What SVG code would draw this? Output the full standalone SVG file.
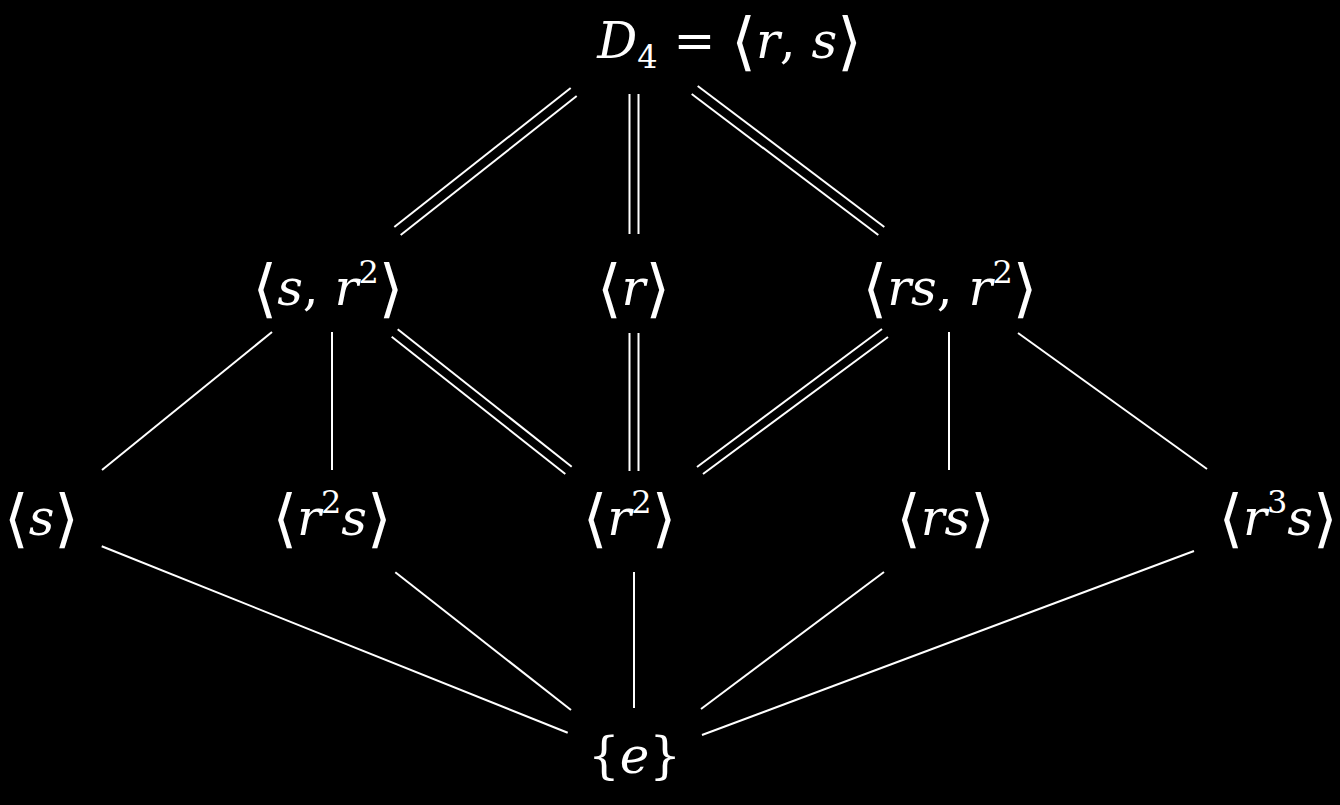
<svg xmlns="http://www.w3.org/2000/svg" width="1340" height="805" viewBox="0 0 1340 805">
<style>
text { font-family: 'DejaVu Serif', serif; font-size: 50px; fill: #fff; }
.i { font-style: italic; }
.b { font-family: 'DejaVu Serif', serif; font-size: 63px; font-style: normal; }
.sup { font-size: 32px; font-style: normal; }
.e line { stroke: #fff; stroke-width: 2; stroke-linecap: butt; }
</style>
<rect x="0" y="0" width="1340" height="805" fill="#000"/>
<g class="e" id="connectors">
  <line x1="394.3" y1="227" x2="570.7" y2="88"/>
  <line x1="400.7" y1="235" x2="576.7" y2="96"/>
  <line x1="629.5" y1="94" x2="629.5" y2="234"/>
  <line x1="638.5" y1="94" x2="638.5" y2="234"/>
  <line x1="697.7" y1="86" x2="884.3" y2="227"/>
  <line x1="691.7" y1="94" x2="878.3" y2="235"/>
  <line x1="397.7" y1="329.3" x2="571.7" y2="466.7"/>
  <line x1="391.7" y1="336.7" x2="565.3" y2="474"/>
  <line x1="629.5" y1="333" x2="629.5" y2="471"/>
  <line x1="638.5" y1="333" x2="638.5" y2="471"/>
  <line x1="882" y1="329" x2="697" y2="467"/>
  <line x1="888" y1="337" x2="703" y2="474"/>
  <line x1="272" y1="332" x2="102" y2="470"/>
  <line x1="332" y1="332" x2="332" y2="470"/>
  <line x1="949" y1="332" x2="949" y2="470"/>
  <line x1="1018" y1="333" x2="1207" y2="469"/>
  <line x1="101.7" y1="546.3" x2="567.7" y2="732.7"/>
  <line x1="395.3" y1="572.3" x2="571" y2="710"/>
  <line x1="634" y1="572" x2="634" y2="708"/>
  <line x1="884" y1="572" x2="701" y2="709"/>
  <line x1="1194" y1="551" x2="702" y2="735"/>
</g>
<g id="n-D4"><text x="729.5" y="58" text-anchor="middle"><tspan class="i">D</tspan><tspan class="sup" dy="10">4</tspan><tspan dy="-10"> = </tspan><tspan class="b" dy="5">⟨</tspan><tspan class="i" dy="-5">r</tspan>, <tspan class="i">s</tspan><tspan class="b" dy="5">⟩</tspan></text></g>
<g id="n-s-r2"><text x="328" y="305" text-anchor="middle"><tspan class="b" dy="5">⟨</tspan><tspan class="i" dy="-5">s</tspan>, <tspan class="i">r</tspan><tspan class="sup" dy="-22">2</tspan><tspan class="b" dy="27">⟩</tspan></text></g>
<g id="n-r"><text x="633.5" y="305" text-anchor="middle"><tspan class="b" dy="5">⟨</tspan><tspan class="i" dy="-5">r</tspan><tspan class="b" dy="5">⟩</tspan></text></g>
<g id="n-rs-r2"><text x="950" y="305" text-anchor="middle"><tspan class="b" dy="5">⟨</tspan><tspan class="i" dy="-5">rs</tspan>, <tspan class="i">r</tspan><tspan class="sup" dy="-22">2</tspan><tspan class="b" dy="27">⟩</tspan></text></g>
<g id="n-s"><text x="41.5" y="535" text-anchor="middle"><tspan class="b" dy="5">⟨</tspan><tspan class="i" dy="-5">s</tspan><tspan class="b" dy="5">⟩</tspan></text></g>
<g id="n-r2s"><text x="332" y="535" text-anchor="middle"><tspan class="b" dy="5">⟨</tspan><tspan class="i" dy="-5">r</tspan><tspan class="sup" dy="-22">2</tspan><tspan class="i" dy="22">s</tspan><tspan class="b" dy="5">⟩</tspan></text></g>
<g id="n-r2"><text x="629.5" y="535" text-anchor="middle"><tspan class="b" dy="5">⟨</tspan><tspan class="i" dy="-5">r</tspan><tspan class="sup" dy="-22">2</tspan><tspan class="b" dy="27">⟩</tspan></text></g>
<g id="n-rs"><text x="945.5" y="535" text-anchor="middle"><tspan class="b" dy="5">⟨</tspan><tspan class="i" dy="-5">rs</tspan><tspan class="b" dy="5">⟩</tspan></text></g>
<g id="n-r3s"><text x="1278" y="535" text-anchor="middle"><tspan class="b" dy="5">⟨</tspan><tspan class="i" dy="-5">r</tspan><tspan class="sup" dy="-22">3</tspan><tspan class="i" dy="22">s</tspan><tspan class="b" dy="5">⟩</tspan></text></g>
<g id="n-e"><text x="634.5" y="773" text-anchor="middle">{<tspan class="i">e</tspan>}</text></g>
</svg>
